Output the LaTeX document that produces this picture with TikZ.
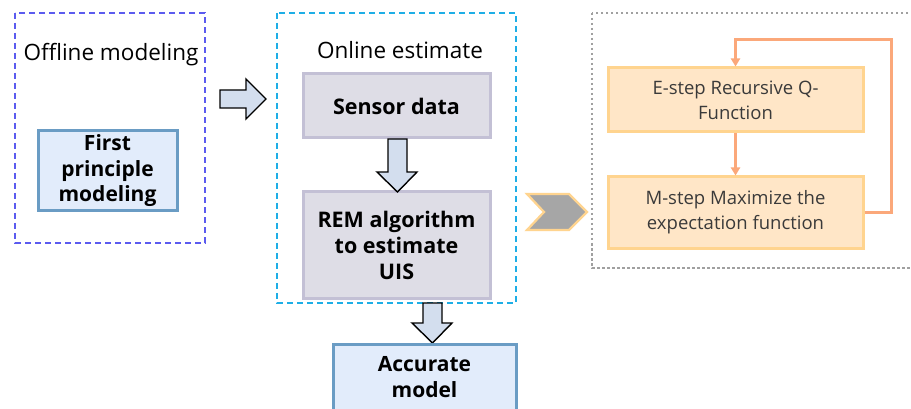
\documentclass[tikz,border=0pt]{standalone}
\usepackage{fontspec}
\setmainfont{Open Sans}
\usetikzlibrary{calc,arrows.meta}
\definecolor{offblue}{HTML}{5B5BEF}
\definecolor{oncyan}{HTML}{1EAEE6}
\definecolor{lblue}{HTML}{E2ECFB}
\definecolor{sblue}{HTML}{6A9CC4}
\definecolor{lgray}{HTML}{DEDDE6}
\definecolor{bgray}{HTML}{C3C0D5}
\definecolor{afill}{HTML}{D3DEEE}
\definecolor{ofill}{HTML}{FFE6C7}
\definecolor{oborder}{HTML}{FFD48F}
\definecolor{oline}{HTML}{FBA87A}
\definecolor{dgray}{HTML}{A0A0A0}
\definecolor{chev}{HTML}{A6A6A6}
\definecolor{otext}{HTML}{3A3A3A}
\tikzset{
  bluebox/.style={draw=sblue,fill=lblue,line width=3pt,align=center,inner sep=0pt,
    font=\fontsize{21}{25.5}\selectfont\bfseries},
  graybox/.style={draw=bgray,fill=lgray,line width=3pt,align=center,inner sep=0pt,
    font=\fontsize{21.5}{26}\selectfont\bfseries},
  orbox/.style={draw=oborder,fill=ofill,line width=3pt,align=center,inner sep=0pt,
    text=otext,font=\fontsize{18.5}{25}\selectfont},
  blockarrow/.style={draw=black,fill=afill,line width=1.4pt,line join=miter},
  title/.style={font=\fontsize{22.5}{26}\selectfont,inner sep=0pt},
  oconn/.style={draw=oline,line width=2.6pt,-{Triangle[length=8pt,width=9pt]}},
}
\begin{document}
\begin{tikzpicture}[x=1pt,y=-1pt]
\clip (0,0) rectangle (911,409);
\fill[white] (0,0) rectangle (911,409);
% left group
\draw[offblue,line width=2pt,dash pattern=on 6pt off 4pt] (15,13) rectangle (205,243);
\node[title] (offt) at (111,55) {Offline modeling};
\node[bluebox,minimum width=139pt,minimum height=80pt] (fp) at (107.5,171) {First\\principle\\modeling};
% arrow 1
\draw[blockarrow] (220,90) -- (246,90) -- (246,79) -- (266,99) -- (246,119) -- (246,108) -- (220,108) -- cycle;
% middle group
\draw[oncyan,line width=2pt,dash pattern=on 6pt off 4pt] (277,13) rectangle (516,303);
\node[title] (ont) at (400,50) {Online estimate};
\node[graybox,minimum width=187pt,minimum height=64pt] (sd) at (396.5,106) {Sensor data};
\node[graybox,minimum width=187pt,minimum height=106pt] (rem) at (396.5,245) {REM algorithm\\to estimate\\UIS};
\draw[blockarrow] (388,139) -- (407,139) -- (407,172) -- (417,172) -- (397.5,192) -- (377,172) -- (388,172) -- cycle;
\draw[blockarrow] (423,303) -- (442,303) -- (442,323) -- (452,323) -- (432.5,343) -- (412,323) -- (423,323) -- cycle;
\node[bluebox,minimum width=183pt,minimum height=100pt,anchor=north] (acc) at (424.5,343) {};
\node[font=\fontsize{21}{25.5}\selectfont\bfseries,align=center,inner sep=0pt] (acct) at (424.5,377) {Accurate\\model};
% right group
\draw[dgray,line width=2.5pt,dash pattern=on 2.5pt off 2.5pt] (592,13) rectangle (925,268);
\draw[fill=chev,draw=oborder,line width=2.2pt,line join=miter] (527,194) -- (569,194) -- (587,212) -- (569,230) -- (527,230) -- (544,212) -- cycle;
\node[orbox,minimum width=255pt,minimum height=64pt] (E) at (735.5,100) {E-step Recursive Q-\\Function};
\node[orbox,minimum width=255pt,minimum height=71pt] (M) at (735.5,212.5) {M-step Maximize the\\expectation function};
\draw[oconn] (E) -- (M);
\draw[oconn] (M.east) -- ++(27,0) |- ($(E.north)+(0,-27)$) -- (E.north);
\end{tikzpicture}
\end{document}
